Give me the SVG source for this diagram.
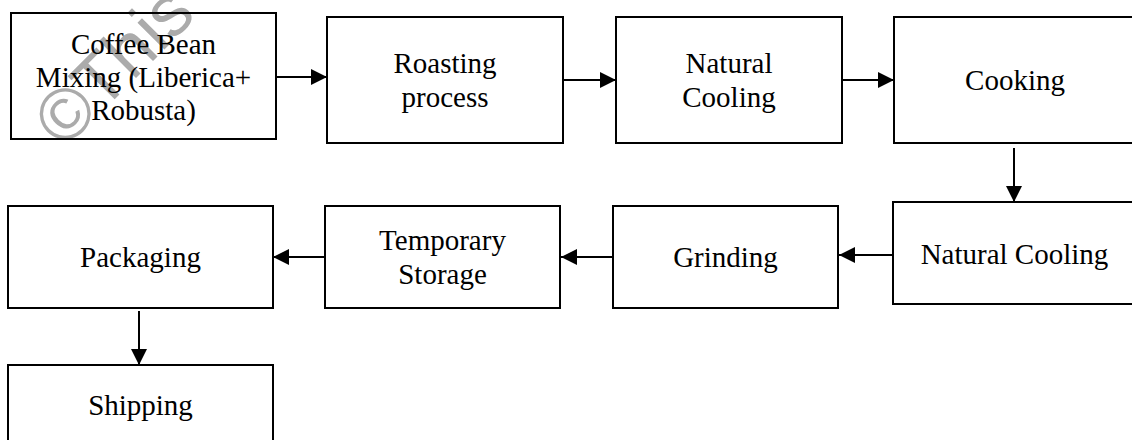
<svg xmlns="http://www.w3.org/2000/svg" width="1132" height="440" viewBox="0 0 1132 440">
<style>
.box{fill:none;stroke:#000;stroke-width:2}
.lbl{font-family:"Liberation Serif","Times New Roman",serif;font-size:29px;fill:#000;text-anchor:middle}
.con{stroke:#000;stroke-width:2;fill:none;marker-end:url(#ah)}
.wm{font-family:"Liberation Sans",Arial,sans-serif;font-size:72px;fill:#ababab}
</style>
<defs>
<marker id="ah" markerUnits="userSpaceOnUse" markerWidth="16" markerHeight="16" refX="16" refY="8" orient="auto">
<path d="M0,0 L16,8 L0,16 z" fill="#000"/>
</marker>
</defs>
<rect width="1132" height="440" fill="#fff"/>
<text class="wm" transform="translate(64,150) rotate(-45)">©This</text>
<g id="n1"><rect class="box" x="11" y="13" width="265" height="126"/>
<text class="lbl" x="143.5" y="54">Coffee Bean</text>
<text class="lbl" x="143.5" y="87">Mixing (Liberica+</text>
<text class="lbl" x="143.5" y="120">Robusta)</text></g>
<g id="n2"><rect class="box" x="327" y="17" width="236" height="126"/>
<text class="lbl" x="445" y="73">Roasting</text>
<text class="lbl" x="445" y="107">process</text></g>
<g id="n3"><rect class="box" x="616" y="17" width="226" height="126"/>
<text class="lbl" x="729" y="73">Natural</text>
<text class="lbl" x="729" y="107">Cooling</text></g>
<g id="n4"><rect class="box" x="894" y="17" width="242" height="126"/>
<text class="lbl" x="1015" y="90">Cooking</text></g>
<g id="n5"><rect class="box" x="893" y="202" width="243" height="102"/>
<text class="lbl" x="1014.5" y="264">Natural Cooling</text></g>
<g id="n6"><rect class="box" x="613" y="206" width="225" height="102"/>
<text class="lbl" x="725.5" y="267">Grinding</text></g>
<g id="n7"><rect class="box" x="325" y="206" width="235" height="102"/>
<text class="lbl" x="442.5" y="250">Temporary</text>
<text class="lbl" x="442.5" y="284">Storage</text></g>
<g id="n8"><rect class="box" x="8" y="206" width="265" height="102"/>
<text class="lbl" x="140.5" y="267">Packaging</text></g>
<g id="n9"><rect class="box" x="8" y="365" width="265" height="90"/>
<text class="lbl" x="140.5" y="415">Shipping</text></g>
<g id="connectors">
<line class="con" x1="276" y1="77" x2="327" y2="77"/>
<line class="con" x1="563" y1="80" x2="616" y2="80"/>
<line class="con" x1="843" y1="80" x2="894" y2="80"/>
<line class="con" x1="1014" y1="148" x2="1014" y2="202"/>
<line class="con" x1="893" y1="255" x2="839" y2="255"/>
<line class="con" x1="613" y1="257" x2="561" y2="257"/>
<line class="con" x1="325" y1="257" x2="273" y2="257"/>
<line class="con" x1="139" y1="311" x2="139" y2="365"/>
</g>
</svg>
